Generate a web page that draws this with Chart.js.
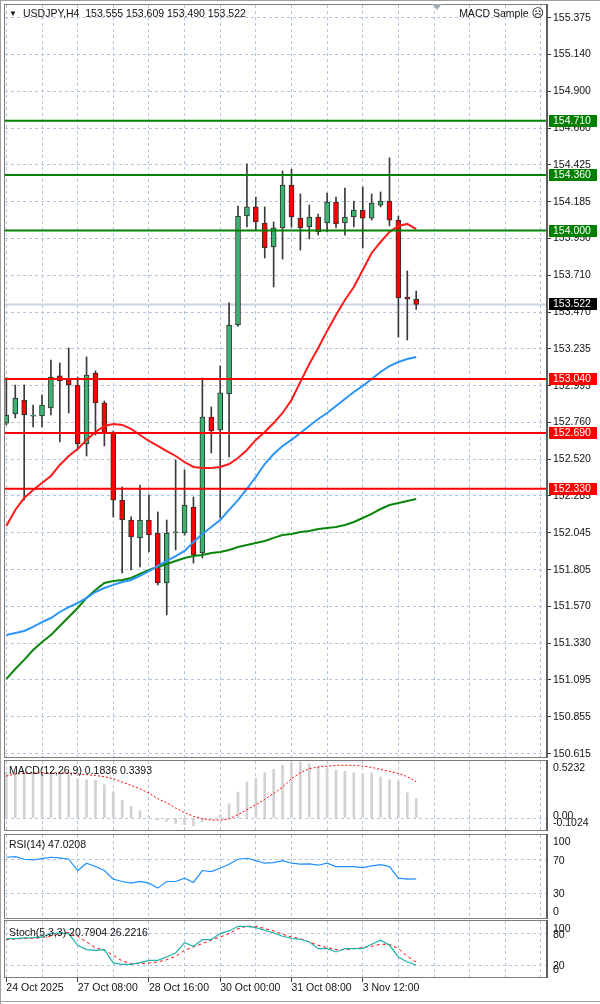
<!DOCTYPE html>
<html>
<head>
<meta charset="utf-8">
<title>USDJPY H4</title>
<script src="https://cdn.jsdelivr.net/npm/chart.js@4.4.1/dist/chart.umd.min.js"></script>
<style>
  html, body { margin:0; padding:0; background:#ffffff; }
  body { position:relative; width:600px; height:1004px; overflow:hidden; }
  canvas { position:absolute; left:0; top:0; }
  .lbl { position:absolute; font-family:"Liberation Sans","DejaVu Sans",Arial,sans-serif; font-size:10.5px; color:#111; white-space:pre; line-height:12px; }
  .ln { position:absolute; background:#a0a0a0; }
</style>
</head>
<body>
<div class="ln" style="left:0;top:0;width:1px;height:1004px;"></div>
<div class="ln" style="left:0;top:0;width:600px;height:1px;"></div>
<div class="ln" style="left:0;top:1001px;width:600px;height:1px;"></div>
<canvas id="cMain" width="600" height="1004"></canvas>
<canvas id="cMacd" width="600" height="1004"></canvas>
<canvas id="cRsi" width="600" height="1004"></canvas>
<canvas id="cSto" width="600" height="1004"></canvas>
<div class="lbl" style="left:9px;top:8px;font-size:8px;">▼</div>
<div class="lbl" style="left:23px;top:7px;">USDJPY,H4  153.555 153.609 153.490 153.522</div>
<div class="lbl" style="right:56px;top:7px;">MACD Sample <span style="font-family:'DejaVu Sans';font-size:12px;">☹</span></div>
<div style="position:absolute;left:432px;top:4px;width:0;height:0;border-left:5px solid transparent;border-right:5px solid transparent;border-top:6px solid #a3acbb;"></div>
<div class="lbl" style="left:9px;top:764px;">MACD(12,26,9) 0.1836 0.3393</div>
<div class="lbl" style="left:9px;top:838px;">RSI(14) 47.0208</div>
<div class="lbl" style="left:9px;top:926px;">Stoch(5,3,3) 20.7904 26.2216</div>
<script>
// ---------------- DATA ----------------
const timeLabels = ['24 Oct 2025', '27 Oct 08:00', '28 Oct 16:00', '30 Oct 00:00', '31 Oct 08:00', '3 Nov 12:00'];
const labelBars = [0, 8, 16, 24, 32, 40];

const barOpen  = [152.755,152.814,152.904,152.800,152.801,152.853,153.060,153.034,153.001,152.620,153.079,152.885,152.691,152.257,152.128,152.012,152.128,152.044,151.721,152.044,152.044,152.212,151.915,152.794,152.710,152.943,153.389,154.094,154.153,154.049,153.894,154.017,154.295,154.081,154.023,154.088,154.049,154.185,154.049,154.088,154.133,154.081,154.165,154.191,154.068,153.570,153.555];
const barHigh  = [153.047,153.001,153.001,152.872,152.937,153.163,153.144,153.241,153.053,153.182,153.092,152.898,152.704,152.342,152.148,152.354,152.290,152.180,152.128,152.516,152.451,152.277,153.047,152.859,153.124,153.532,154.159,154.431,154.217,154.153,154.056,154.385,154.398,154.237,154.165,154.107,154.243,154.217,154.275,154.191,154.282,154.237,154.250,154.470,154.094,153.739,153.609];
const barLow   = [152.743,152.788,152.257,152.730,152.730,152.807,152.633,152.820,152.581,152.542,152.678,152.607,152.148,151.785,151.805,151.824,151.921,151.708,151.514,151.934,152.031,151.850,151.882,152.561,152.141,152.536,153.380,154.023,154.004,153.823,153.635,153.816,154.023,153.874,153.946,153.971,153.991,154.017,153.971,154.023,153.887,154.068,154.153,154.030,153.312,153.292,153.490];
const barClose = [152.807,152.917,152.807,152.807,152.872,153.053,153.027,153.001,152.620,153.066,152.885,152.691,152.257,152.128,152.018,152.128,152.031,151.721,152.044,152.051,152.225,151.902,152.794,152.704,152.950,153.389,154.094,154.153,154.056,153.887,154.017,154.295,154.088,154.017,154.088,153.991,154.185,154.043,154.088,154.133,154.081,154.178,154.191,154.068,153.564,153.557,153.522];

const maRed   = [152.089,152.193,152.270,152.322,152.367,152.413,152.484,152.542,152.587,152.646,152.697,152.736,152.749,152.743,152.717,152.678,152.639,152.607,152.574,152.542,152.503,152.471,152.464,152.464,152.471,152.490,152.529,152.581,152.646,152.697,152.755,152.820,152.904,153.021,153.137,153.241,153.351,153.454,153.551,153.635,153.745,153.855,153.926,153.991,154.030,154.043,154.010];
const maBlue  = [151.384,151.397,151.410,151.436,151.468,151.494,151.533,151.565,151.591,151.624,151.662,151.688,151.708,151.727,151.740,151.766,151.798,151.831,151.863,151.895,151.928,151.986,152.038,152.083,152.128,152.193,152.257,152.329,152.406,152.490,152.555,152.607,152.646,152.691,152.736,152.781,152.820,152.865,152.911,152.956,152.995,153.040,153.085,153.124,153.150,153.169,153.182];
const maGreen = [151.100,151.164,151.223,151.287,151.339,151.384,151.442,151.501,151.559,151.624,151.675,151.721,151.733,151.740,151.753,151.779,151.805,151.824,151.843,151.863,151.882,151.895,151.902,151.915,151.921,151.934,151.953,151.966,151.979,151.992,152.012,152.031,152.038,152.050,152.057,152.070,152.076,152.083,152.096,152.115,152.141,152.167,152.199,152.225,152.238,152.251,152.264];

const greenLevels = [154.710, 154.360, 154.000];
const redLevels   = [153.040, 152.690, 152.330];
const bidPrice = 153.522;
const priceTicks = [155.375,155.140,154.900,154.660,154.425,154.185,153.950,153.710,153.470,153.235,152.995,152.760,152.520,152.285,152.045,151.805,151.570,151.330,151.095,150.855,150.615];

const macdMain   = [0.430,0.430,0.425,0.423,0.423,0.423,0.420,0.418,0.367,0.358,0.352,0.311,0.243,0.165,0.109,0.068,0.015,-0.020,-0.031,-0.050,-0.062,-0.075,-0.035,-0.010,0.030,0.134,0.243,0.336,0.373,0.423,0.454,0.492,0.515,0.523,0.505,0.480,0.462,0.447,0.436,0.423,0.414,0.423,0.383,0.358,0.342,0.236,0.1836];
const macdSignal = [0.392,0.411,0.417,0.420,0.423,0.423,0.423,0.420,0.411,0.405,0.398,0.386,0.367,0.336,0.305,0.274,0.233,0.180,0.143,0.093,0.050,0.016,-0.006,-0.019,-0.019,-0.009,0.031,0.078,0.124,0.174,0.230,0.289,0.367,0.423,0.461,0.476,0.485,0.492,0.492,0.492,0.485,0.473,0.454,0.436,0.417,0.386,0.3393];
const rsiValues  = [73.2,74.0,70.8,70.0,71.6,73.2,72.4,70.8,57.2,66.0,62.0,57.2,46.8,44.0,42.0,44.0,42.0,36.0,44.0,44.0,48.0,42.8,57.2,56.0,60.0,64.8,70.8,72.0,69.2,66.0,66.8,69.2,66.0,64.8,65.2,63.6,66.0,62.0,62.0,62.0,60.8,62.8,64.4,62.0,48.0,46.8,47.02];
const stochMain  = [70.6,70.6,71.9,72.5,73.8,80.1,81.4,80.1,58.0,49.8,48.5,49.8,24.6,22.0,22.0,25.2,29.6,29.6,36.0,43.5,63.0,56.1,68.8,68.8,80.1,85.2,94.0,94.0,91.5,86.4,81.4,75.1,71.3,69.4,64.3,51.7,51.7,45.4,51.7,51.7,51.7,59.9,67.5,58.0,35.9,26.4,20.79];
const stochSignal= [68.8,70.0,70.6,71.3,72.5,75.7,79.5,82.6,75.1,64.3,53.6,48.5,39.1,28.4,23.3,23.3,24.6,26.5,30.9,37.2,48.5,54.9,61.2,67.5,73.8,80.1,89.6,94.0,94.0,89.6,85.2,78.9,73.8,70.6,64.3,58.0,53.6,49.8,49.8,51.7,53.6,56.1,59.9,59.9,51.7,37.2,26.22];

// ---------------- STYLE ----------------
const FONT = '"Liberation Sans","DejaVu Sans",Arial,sans-serif';
const GRID = '#b3c5dc';
const BULL = '#3cb371', BEAR = '#ff0000';
const X_MIN = -0.153, X_MAX = 60.68;
const gridBars = []; for (let b = 0; b <= 60; b += 4) gridBars.push(b);

function pts(arr) { return arr.map((v, i) => ({x: i, y: v})); }
function hline(v) { return [{x: X_MIN, y: v}, {x: X_MAX, y: v}]; }

function xScale(withLabels) {
  return {
    type: 'linear', position: 'bottom', min: X_MIN, max: X_MAX, offset: false,
    afterBuildTicks: s => { s.ticks = gridBars.map(v => ({value: v})); },
    afterFit: s => { s.height = withLabels ? 20 : 0; s.paddingLeft = 0; s.paddingRight = 0; },
    grid: { offset: false, color: GRID, lineWidth: 1, drawTicks: withLabels, tickLength: 5, tickWidth: 1,
            tickColor: c => (c.tick && labelBars.includes(c.tick.value)) ? '#3a3a3a' : 'rgba(0,0,0,0)', tickBorderDash: [] },
    border: { display: false, dash: [3, 3] },
    ticks: { display: withLabels, autoSkip: false, maxRotation: 0, minRotation: 0, align: 'start', padding: 0,
             color: '#111', font: {family: FONT, size: 10.5},
             callback: v => { const k = labelBars.indexOf(v); return k >= 0 ? timeLabels[k] : ''; } }
  };
}
function subY(min, max, gridVals) {
  return {
    type: 'linear', position: 'right', min, max,
    afterBuildTicks: s => { s.ticks = gridVals.map(v => ({value: v})); },
    afterFit: s => { s.width = 53; s.paddingTop = 0; s.paddingBottom = 0; },
    grid: { color: GRID, lineWidth: 1, drawTicks: false },
    border: { display: false, dash: [3, 3] },
    ticks: { display: false }
  };
}
function framePlugin() {
  return { id: 'frame', afterDraw(chart) {
    const {ctx, chartArea: a} = chart;
    ctx.save();
    ctx.strokeStyle = '#7c7c7c'; ctx.lineWidth = 1;
    ctx.strokeRect(a.left - 0.5, a.top - 0.5, a.right - a.left + 1, a.bottom - a.top + 1);
    ctx.fillStyle = '#5e5e5e';
    ctx.fillRect(a.right - 1, a.top - 1, 2, a.bottom - a.top + 2);
    ctx.restore();
  }};
}
function sideLabels(items) {
  return { id: 'side', afterDraw(chart) {
    const y = chart.scales.y, ctx = chart.ctx;
    ctx.save();
    ctx.font = '10.5px ' + FONT; ctx.fillStyle = '#111'; ctx.textBaseline = 'middle'; ctx.textAlign = 'left';
    items.forEach(it => ctx.fillText(it.text, chart.chartArea.right + 6, y.getPixelForValue(it.v) + it.dy));
    ctx.restore();
  }};
}
const tagPlugin = { id: 'tags', afterDraw(chart) {
  const y = chart.scales.y, ctx = chart.ctx, r = chart.chartArea.right;
  ctx.save();
  ctx.font = '10.5px ' + FONT; ctx.textBaseline = 'middle'; ctx.textAlign = 'left';
  const tags = [...greenLevels.map(v => [v, '#008000']), ...redLevels.map(v => [v, '#ff0000']), [bidPrice, '#000000']];
  tags.forEach(([v, c]) => {
    const py = Math.round(y.getPixelForValue(v));
    ctx.fillStyle = c; ctx.fillRect(r + 2, py - 6, 48, 12);
    ctx.fillStyle = '#ffffff'; ctx.fillText(v.toFixed(3), r + 6, py + 0.5);
  });
  ctx.restore();
}};

const common = { responsive: false, animation: false, events: [], devicePixelRatio: 1,
  plugins: { legend: { display: false }, tooltip: { enabled: false } } };

// ---------------- MAIN ----------------
const levelSets = [
  ...greenLevels.map(v => ({ type: 'line', data: hline(v), borderColor: '#008000', borderWidth: 2, pointRadius: 0, order: 0 })),
  ...redLevels.map(v => ({ type: 'line', data: hline(v), borderColor: '#ff0000', borderWidth: 2, pointRadius: 0, order: 0 }))
];
new Chart(document.getElementById('cMain'), {
  type: 'bar',
  data: { datasets: [
    ...levelSets,
    { type: 'line', data: pts(maRed), borderColor: '#ff1a1a', borderWidth: 2, pointRadius: 0, tension: 0, order: 1 },
    { type: 'line', data: pts(maBlue), borderColor: '#2b95f5', borderWidth: 2, pointRadius: 0, tension: 0, order: 1 },
    { type: 'line', data: pts(maGreen), borderColor: '#0a860a', borderWidth: 2, pointRadius: 0, tension: 0, order: 1 },
    { type: 'bar', data: barOpen.map((o, i) => ({x: i, y: [o, barClose[i]]})),
      backgroundColor: barOpen.map((o, i) => barClose[i] >= o ? BULL : BEAR),
      borderColor: '#2e2e2e', borderWidth: 1, borderSkipped: false, barThickness: 5, grouped: false, order: 2 },
    { type: 'bar', data: barOpen.map((o, i) => ({x: i, y: [barLow[i], barHigh[i]]})),
      backgroundColor: '#3a3a3a', borderWidth: 0, barThickness: 1, grouped: false, order: 3 },
    { type: 'line', data: hline(bidPrice), borderColor: '#c9d3e2', borderWidth: 2, pointRadius: 0, order: 4 }
  ]},
  options: { ...common,
    layout: { padding: { left: 5, top: 5, right: 0, bottom: 247 } },
    scales: {
      x: xScale(false),
      y: { type: 'linear', position: 'right', min: 150.595, max: 155.459,
        afterBuildTicks: s => { s.ticks = priceTicks.map(v => ({value: v})); },
        afterFit: s => { s.width = 53; s.paddingTop = 0; s.paddingBottom = 0; },
        grid: { color: GRID, lineWidth: 1, drawTicks: true, tickLength: 4, tickWidth: 1, tickColor: '#3a3a3a', tickBorderDash: [] },
        border: { display: false, dash: [3, 3] },
        ticks: { autoSkip: false, padding: 2, color: '#111', font: {family: FONT, size: 10.5}, callback: v => Number(v).toFixed(3) } }
    }
  },
  plugins: [framePlugin(), tagPlugin]
});

// ---------------- MACD ----------------
new Chart(document.getElementById('cMacd'), {
  type: 'bar',
  data: { datasets: [
    { type: 'line', data: pts(macdSignal), borderColor: '#ff0000', borderWidth: 1, borderDash: [2, 2], pointRadius: 0, order: 0 },
    { type: 'bar', data: pts(macdMain), backgroundColor: '#d2d2d2', borderWidth: 0, barThickness: 2, grouped: false, order: 1 }
  ]},
  options: { ...common,
    layout: { padding: { left: 5, top: 761, right: 0, bottom: 174 } },
    scales: { x: xScale(false), y: subY(-0.1117, 0.5325, [0]) }
  },
  plugins: [framePlugin(), sideLabels([{v: 0.5232, text: '0.5232', dy: 6}, {v: 0, text: '0.00', dy: -2}, {v: -0.1024, text: '-0.1024', dy: -6}])]
});

// ---------------- RSI ----------------
new Chart(document.getElementById('cRsi'), {
  type: 'line',
  data: { datasets: [
    { data: pts(rsiValues), borderColor: '#1e90ff', borderWidth: 1.2, pointRadius: 0, tension: 0 }
  ]},
  options: { ...common,
    layout: { padding: { left: 5, top: 835, right: 0, bottom: 86 } },
    scales: { x: xScale(false), y: subY(0, 100, [70, 30]) }
  },
  plugins: [framePlugin(), sideLabels([{v: 100, text: '100', dy: 7}, {v: 70, text: '70', dy: 1}, {v: 30, text: '30', dy: 1}, {v: 0, text: '0', dy: -6}])]
});

// ---------------- STOCH ----------------
new Chart(document.getElementById('cSto'), {
  type: 'line',
  data: { datasets: [
    { data: pts(stochSignal), borderColor: '#ff0000', borderWidth: 1, borderDash: [3, 3], pointRadius: 0, tension: 0, order: 1 },
    { data: pts(stochMain), borderColor: '#20b2aa', borderWidth: 1.2, pointRadius: 0, tension: 0, order: 0 }
  ]},
  options: { ...common,
    layout: { padding: { left: 5, top: 921, right: 0, bottom: 7 } },
    scales: { x: xScale(true), y: subY(-2, 104, [80, 20]) }
  },
  plugins: [framePlugin(), sideLabels([{v: 100, text: '100', dy: 6}, {v: 80, text: '80', dy: 1}, {v: 20, text: '20', dy: 1}, {v: 0, text: '0', dy: -6}])]
});
</script>
</body>
</html>
